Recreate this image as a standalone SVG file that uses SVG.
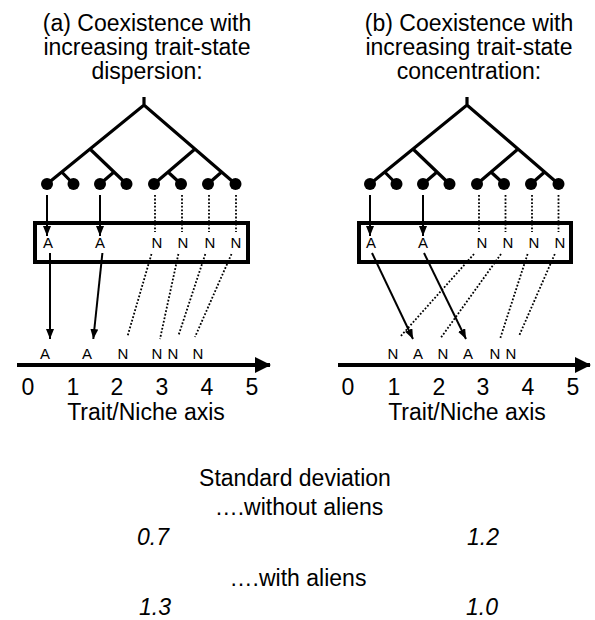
<svg xmlns="http://www.w3.org/2000/svg" width="595" height="620" viewBox="0 0 595 620">
<style>
text{font-family:"Liberation Sans",Arial,sans-serif;fill:#000}
.big{font-size:23px}
.lab{font-size:15px}
.it{font-style:italic}
.tree{fill:none;stroke:#000;stroke-width:3.2;stroke-linejoin:miter}
.box{fill:none;stroke:#000;stroke-width:4}
.sol{fill:none;stroke:#000;stroke-width:2}
.dot{fill:none;stroke:#000;stroke-width:1.8;stroke-dasharray:1.8 1.8}
.axis{fill:none;stroke:#000;stroke-width:4}
</style>
<defs>
<marker id="ah" markerUnits="userSpaceOnUse" markerWidth="10" markerHeight="8" refX="10" refY="4" orient="auto">
<path d="M0,0 L10,4 L0,8 z" fill="#000"/>
</marker>
<marker id="axh" markerUnits="userSpaceOnUse" markerWidth="16" markerHeight="16" refX="15" refY="8" orient="auto">
<path d="M0,0 L16,8 L0,16 z" fill="#000"/>
</marker>
<g id="treeShape">
<path class="tree" d="M144,97 V105 M47,184 L144,105 L235.5,184 M90,149 L126.5,184 M195,149 L154,184 M61.7,172 L73.5,184 M114,172 L100,184 M168,172 L181,184 M221.6,172 L208,184"/>
<circle cx="47" cy="184" r="6"/><circle cx="73.5" cy="184" r="6"/><circle cx="100" cy="184" r="6"/><circle cx="126.5" cy="184" r="6"/>
<circle cx="154" cy="184" r="6"/><circle cx="181" cy="184" r="6"/><circle cx="208" cy="184" r="6"/><circle cx="235.5" cy="184" r="6"/>
</g>
</defs>

<g id="title-a" class="big" text-anchor="middle">
<text x="147" y="31">(a) Coexistence with</text>
<text x="147" y="55">increasing trait-state</text>
<text x="147" y="79">dispersion:</text>
</g>
<g id="title-b" class="big" text-anchor="middle">
<text x="469" y="31">(b) Coexistence with</text>
<text x="469" y="55">increasing trait-state</text>
<text x="469" y="79">concentration:</text>
</g>

<g id="tree-a"><use href="#treeShape"/></g>
<g id="tree-b"><use href="#treeShape" transform="translate(323,0)"/></g>

<g id="box-a">
<rect class="box" x="35" y="223" width="213" height="39"/>
<g class="lab" text-anchor="middle">
<text x="48" y="248">A</text><text x="100" y="248">A</text>
<text x="157" y="248">N</text><text x="183" y="248">N</text><text x="210" y="248">N</text><text x="236" y="248">N</text>
</g>
</g>
<g id="box-b">
<rect class="box" x="359" y="223" width="212" height="39"/>
<g class="lab" text-anchor="middle">
<text x="371" y="248">A</text><text x="423" y="248">A</text>
<text x="482" y="248">N</text><text x="508" y="248">N</text><text x="534" y="248">N</text><text x="560" y="248">N</text>
</g>
</g>

<g id="axis-a">
<line class="axis" x1="17" y1="365" x2="270" y2="365" marker-end="url(#axh)"/>
<g class="lab" text-anchor="middle">
<text x="45" y="359">A</text><text x="87" y="359">A</text><text x="123" y="359">N</text>
<text x="157" y="359">N</text><text x="173" y="359">N</text><text x="198" y="359">N</text>
</g>
<g class="big" text-anchor="middle">
<text x="28" y="395">0</text><text x="73" y="395">1</text><text x="117" y="395">2</text>
<text x="162" y="395">3</text><text x="207" y="395">4</text><text x="252" y="395">5</text>
<text x="146" y="420">Trait/Niche axis</text>
</g>
</g>
<g id="axis-b">
<line class="axis" x1="338" y1="365" x2="590" y2="365" marker-end="url(#axh)"/>
<g class="lab" text-anchor="middle">
<text x="393" y="359">N</text><text x="418" y="359">A</text><text x="443" y="359">N</text>
<text x="468" y="359">A</text><text x="495" y="359">N</text><text x="511" y="359">N</text>
</g>
<g class="big" text-anchor="middle">
<text x="348" y="395">0</text><text x="394" y="395">1</text><text x="439" y="395">2</text>
<text x="483" y="395">3</text><text x="528" y="395">4</text><text x="573" y="395">5</text>
<text x="467" y="420">Trait/Niche axis</text>
</g>
</g>

<g id="connectors">
<line class="sol" x1="47" y1="195" x2="47" y2="236" marker-end="url(#ah)"/>
<line class="sol" x1="100" y1="195" x2="100" y2="236" marker-end="url(#ah)"/>
<line class="dot" x1="155" y1="195" x2="155" y2="232"/>
<line class="dot" x1="182" y1="195" x2="182" y2="232"/>
<line class="dot" x1="209" y1="195" x2="209" y2="232"/>
<line class="dot" x1="236" y1="195" x2="236" y2="232"/>
<line class="sol" x1="50" y1="253" x2="50" y2="339" marker-end="url(#ah)"/>
<line class="sol" x1="102.4" y1="253" x2="93.3" y2="339" marker-end="url(#ah)"/>
<line class="dot" x1="151.5" y1="254" x2="127.3" y2="337"/>
<line class="dot" x1="178.4" y1="254" x2="160" y2="339"/>
<line class="dot" x1="205.3" y1="254" x2="178.3" y2="336"/>
<line class="dot" x1="231.5" y1="254" x2="195" y2="337"/>
<line class="sol" x1="370" y1="195" x2="370" y2="236" marker-end="url(#ah)"/>
<line class="sol" x1="423" y1="195" x2="423" y2="236" marker-end="url(#ah)"/>
<line class="dot" x1="479" y1="195" x2="479" y2="232"/>
<line class="dot" x1="505.5" y1="195" x2="505.5" y2="232"/>
<line class="dot" x1="532" y1="195" x2="532" y2="232"/>
<line class="dot" x1="558.5" y1="195" x2="558.5" y2="232"/>
<line class="sol" x1="372" y1="253" x2="413" y2="339" marker-end="url(#ah)"/>
<line class="sol" x1="424" y1="253" x2="466" y2="339" marker-end="url(#ah)"/>
<line class="dot" x1="474" y1="254" x2="400" y2="337"/>
<line class="dot" x1="501" y1="254" x2="440.7" y2="338"/>
<line class="dot" x1="527.6" y1="254" x2="500" y2="339"/>
<line class="dot" x1="554.8" y1="254" x2="519" y2="336"/>
</g>

<g id="stats" class="big" text-anchor="middle">
<text x="295" y="486">Standard deviation</text>
<text x="299" y="515">….without aliens</text>
<text class="it" x="153" y="545">0.7</text>
<text class="it" x="483" y="545">1.2</text>
<text x="298" y="586">….with aliens</text>
<text class="it" x="155" y="615">1.3</text>
<text class="it" x="482" y="615">1.0</text>
</g>
</svg>
